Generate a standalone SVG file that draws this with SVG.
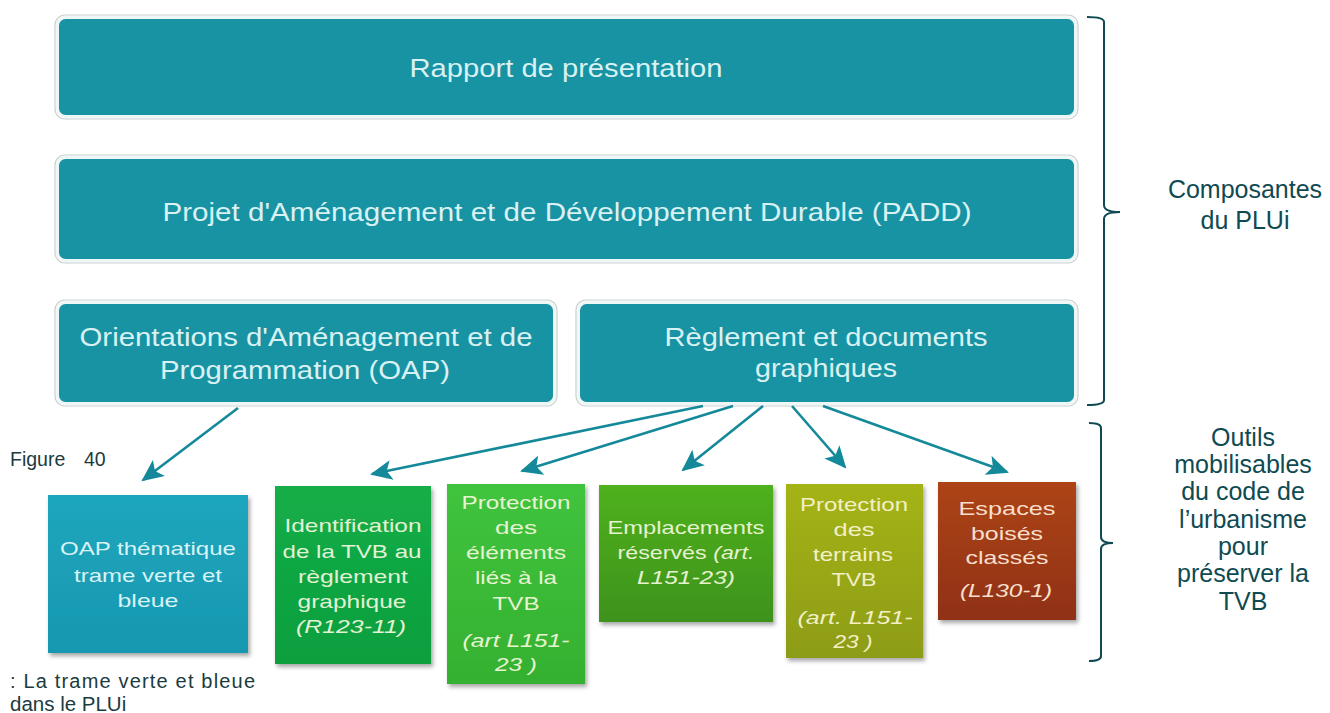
<svg xmlns="http://www.w3.org/2000/svg" width="1330" height="713" viewBox="0 0 1330 713">
<defs>
<style>
.top{fill:#1893a3;stroke:#eef6f6;stroke-width:3}
.topout{fill:none;stroke:#c9cfd0;stroke-width:1.2}
.tt{font-family:"Liberation Sans",Arial,sans-serif;font-size:25px;fill:#d9f1f2;text-anchor:middle}
.bt{font-family:"Liberation Sans",Arial,sans-serif;font-size:19px;text-anchor:middle}
.it{font-style:italic}
.side{font-family:"Liberation Sans",Arial,sans-serif;font-size:25px;fill:#0f4a52;text-anchor:middle}
.cap{font-family:"Liberation Sans",Arial,sans-serif;fill:#1b3b40}
.conn{stroke:#14899a;stroke-width:2.6;fill:none;marker-end:url(#ah)}
.brace{stroke:#0f4a52;stroke-width:2;fill:none}
</style>
<marker id="ah" markerUnits="userSpaceOnUse" markerWidth="24" markerHeight="20" refX="20" refY="10" orient="auto">
<path d="M0,0 L22,10 L0,20 L5,10 Z" fill="#14899a"/>
</marker>
<filter id="sh" x="-10%" y="-10%" width="125%" height="125%">
<feDropShadow dx="2" dy="3" stdDeviation="2" flood-color="#000" flood-opacity="0.35"/>
</filter>
<linearGradient id="gOap" x1="0" y1="0" x2="0" y2="1"><stop offset="0" stop-color="#1ca6bd"/><stop offset="1" stop-color="#1898b0"/></linearGradient>
<linearGradient id="gId" x1="0" y1="0" x2="0" y2="1"><stop offset="0" stop-color="#13ae48"/><stop offset="1" stop-color="#0e9e3e"/></linearGradient>
<linearGradient id="gPe" x1="0" y1="0" x2="0" y2="1"><stop offset="0" stop-color="#40c43e"/><stop offset="1" stop-color="#35b031"/></linearGradient>
<linearGradient id="gEm" x1="0" y1="0" x2="0" y2="1"><stop offset="0" stop-color="#4fb11f"/><stop offset="1" stop-color="#3e921a"/></linearGradient>
<linearGradient id="gPt" x1="0" y1="0" x2="0" y2="1"><stop offset="0" stop-color="#a4b414"/><stop offset="1" stop-color="#8d9c12"/></linearGradient>
<linearGradient id="gEs" x1="0" y1="0" x2="0" y2="1"><stop offset="0" stop-color="#ad4418"/><stop offset="1" stop-color="#8f3112"/></linearGradient>
</defs>
<rect width="1330" height="713" fill="#ffffff"/>

<g id="rapport">
<rect class="topout" x="55" y="15" width="1023" height="104" rx="10"/>
<rect class="top" x="57.5" y="17.5" width="1018" height="99" rx="8"/>
<text class="tt" x="566" y="77" textLength="313" lengthAdjust="spacingAndGlyphs">Rapport de présentation</text>
</g>

<g id="padd">
<rect class="topout" x="55" y="155" width="1023" height="108" rx="10"/>
<rect class="top" x="57.5" y="157.5" width="1018" height="103" rx="8"/>
<text class="tt" x="567" y="221" textLength="809" lengthAdjust="spacingAndGlyphs">Projet d'Aménagement  et de Développement Durable (PADD)</text>
</g>

<g id="oap">
<rect class="topout" x="55" y="300" width="502" height="106" rx="10"/>
<rect class="top" x="57.5" y="302.5" width="497" height="101" rx="8"/>
<text class="tt" x="306" y="346" textLength="453" lengthAdjust="spacingAndGlyphs">Orientations d'Aménagement  et de</text>
<text class="tt" x="305" y="379" textLength="290" lengthAdjust="spacingAndGlyphs">Programmation  (OAP)</text>
</g>

<g id="reglement">
<rect class="topout" x="576" y="300" width="502" height="106" rx="10"/>
<rect class="top" x="578.5" y="302.5" width="497" height="101" rx="8"/>
<text class="tt" x="826" y="346" textLength="323" lengthAdjust="spacingAndGlyphs">Règlement  et documents</text>
<text class="tt" x="826" y="377" textLength="142" lengthAdjust="spacingAndGlyphs">graphiques</text>
</g>

<g id="connectors">
<line class="conn" x1="238" y1="408" x2="143" y2="480"/>
<line class="conn" x1="703" y1="406" x2="372" y2="474"/>
<line class="conn" x1="733" y1="406" x2="522" y2="471"/>
<line class="conn" x1="763" y1="406" x2="683" y2="470"/>
<line class="conn" x1="792" y1="406" x2="845" y2="467"/>
<line class="conn" x1="823" y1="406" x2="1007" y2="472"/>
</g>

<g id="oap-thematique">
<rect x="48" y="495" width="200" height="158" fill="url(#gOap)" filter="url(#sh)"/>
<g class="bt" fill="#d8f3f6">
<text x="148" y="555" textLength="176" lengthAdjust="spacingAndGlyphs">OAP thématique</text>
<text x="148" y="582" textLength="148" lengthAdjust="spacingAndGlyphs">trame verte et</text>
<text x="148" y="607" textLength="61" lengthAdjust="spacingAndGlyphs">bleue</text>
</g>
</g>

<g id="identification">
<rect x="275" y="486" width="156" height="178" fill="url(#gId)" filter="url(#sh)"/>
<g class="bt" fill="#e2f2d4">
<text x="353" y="532" textLength="137" lengthAdjust="spacingAndGlyphs">Identification</text>
<text x="352" y="558" textLength="139" lengthAdjust="spacingAndGlyphs">de la TVB au</text>
<text x="353" y="583" textLength="110" lengthAdjust="spacingAndGlyphs">règlement</text>
<text x="352" y="608" textLength="109" lengthAdjust="spacingAndGlyphs">graphique</text>
<text class="it" x="351" y="633" textLength="110" lengthAdjust="spacingAndGlyphs">(R123-11)</text>
</g>
</g>

<g id="protection-elements">
<rect x="447" y="484" width="138" height="200" fill="url(#gPe)" filter="url(#sh)"/>
<g class="bt" fill="#e6f4d2">
<text x="516" y="509" textLength="109" lengthAdjust="spacingAndGlyphs">Protection</text>
<text x="516" y="534" textLength="42" lengthAdjust="spacingAndGlyphs">des</text>
<text x="516" y="559" textLength="100" lengthAdjust="spacingAndGlyphs">éléments</text>
<text x="516" y="584" textLength="82" lengthAdjust="spacingAndGlyphs">liés à la</text>
<text x="516" y="610" textLength="47" lengthAdjust="spacingAndGlyphs">TVB</text>
<text class="it" x="516" y="647" textLength="107" lengthAdjust="spacingAndGlyphs">(art L151-</text>
<text class="it" x="516" y="671" textLength="42" lengthAdjust="spacingAndGlyphs">23 )</text>
</g>
</g>

<g id="emplacements">
<rect x="599" y="485" width="174" height="137" fill="url(#gEm)" filter="url(#sh)"/>
<g class="bt" fill="#e6f2d0">
<text x="686" y="534" textLength="157" lengthAdjust="spacingAndGlyphs">Emplacements</text>
<text x="686" y="559" textLength="137" lengthAdjust="spacingAndGlyphs">réservés <tspan class="it">(art.</tspan></text>
<text class="it" x="686" y="584" textLength="98" lengthAdjust="spacingAndGlyphs">L151-23)</text>
</g>
</g>

<g id="protection-terrains">
<rect x="786" y="484" width="137" height="174" fill="url(#gPt)" filter="url(#sh)"/>
<g class="bt" fill="#f3f0c8">
<text x="854" y="511" textLength="108" lengthAdjust="spacingAndGlyphs">Protection</text>
<text x="854" y="536" textLength="41" lengthAdjust="spacingAndGlyphs">des</text>
<text x="853" y="561" textLength="80" lengthAdjust="spacingAndGlyphs">terrains</text>
<text x="854" y="586" textLength="45" lengthAdjust="spacingAndGlyphs">TVB</text>
<text class="it" x="855" y="624" textLength="115" lengthAdjust="spacingAndGlyphs">(art. L151-</text>
<text class="it" x="853" y="648" textLength="39" lengthAdjust="spacingAndGlyphs">23 )</text>
</g>
</g>

<g id="espaces-boises">
<rect x="938" y="482" width="138" height="138" fill="url(#gEs)" filter="url(#sh)"/>
<g class="bt" fill="#f8dfcc">
<text x="1007" y="515" textLength="97" lengthAdjust="spacingAndGlyphs">Espaces</text>
<text x="1007" y="540" textLength="72" lengthAdjust="spacingAndGlyphs">boisés</text>
<text x="1007" y="564" textLength="83" lengthAdjust="spacingAndGlyphs">classés</text>
<text class="it" x="1006" y="597" textLength="92" lengthAdjust="spacingAndGlyphs">(L130-1)</text>
</g>
</g>

<g id="brace-composantes">
<path class="brace" d="M1087,17 Q1104,17 1104,22 L1104,205 Q1104,212 1120,212 Q1104,212 1104,219 L1104,400 Q1104,405 1087,405"/>
<text class="side" x="1245" y="198">Composantes</text>
<text class="side" x="1245" y="229">du PLUi</text>
</g>

<g id="brace-outils">
<path class="brace" d="M1089,423 Q1101,423 1101,428 L1101,537 Q1101,543 1113,543 Q1101,543 1101,549 L1101,656 Q1101,661 1089,661"/>
<g class="side">
<text x="1243" y="446">Outils</text>
<text x="1243" y="473">mobilisables</text>
<text x="1243" y="500">du code de</text>
<text x="1243" y="528">l’urbanisme</text>
<text x="1243" y="555">pour</text>
<text x="1243" y="582">préserver la</text>
<text x="1243" y="610">TVB</text>
</g>
</g>

<g id="caption">
<text class="cap" x="10" y="466" font-size="19.5">Figure<tspan x="84">40</tspan></text>
<text class="cap" x="10" y="688" font-size="20" textLength="245" lengthAdjust="spacing">: La trame verte et bleue</text>
<text class="cap" x="10" y="711" font-size="20.5">dans le PLUi</text>
</g>
</svg>
